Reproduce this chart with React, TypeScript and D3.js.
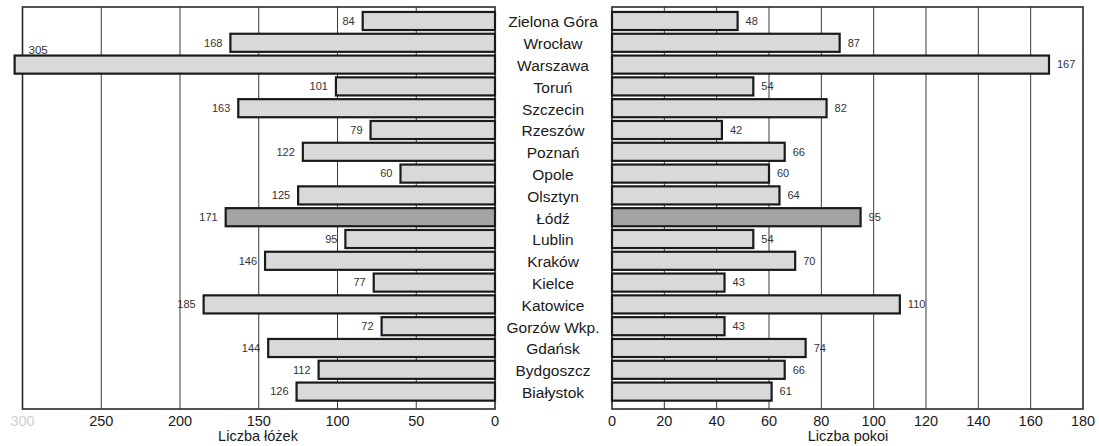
import React from "react";
import * as d3 from "d3";

const cities = [
  "Zielona Góra", "Wrocław", "Warszawa", "Toruń", "Szczecin", "Rzeszów", "Poznań", "Opole", "Olsztyn",
  "Łódź", "Lublin", "Kraków", "Kielce", "Katowice", "Gorzów Wkp.", "Gdańsk", "Bydgoszcz", "Białystok",
];
const beds = [84, 168, 305, 101, 163, 79, 122, 60, 125, 171, 95, 146, 77, 185, 72, 144, 112, 126];
const rooms = [48, 87, 167, 54, 82, 42, 66, 60, 64, 95, 54, 70, 43, 110, 43, 74, 66, 61];
const highlight = "Łódź";
const leftTicks = [300, 250, 200, 150, 100, 50, 0];
const rightTicks = [0, 20, 40, 60, 80, 100, 120, 140, 160, 180];
const leftTitle = "Liczba łóżek";
const rightTitle = "Liczba pokoi";

const W = 1099;
const H = 446;
const FONT = "'Liberation Sans', Arial, sans-serif";

export default function App() {
  const top = 7;
  const bottom = 409;
  const xL = d3.scaleLinear().domain([0, 300]).range([495, 22.5]);
  const xR = d3.scaleLinear().domain([0, 180]).range([612, 1083]);
  const y = d3.scaleBand<string>().domain(cities).range([10.1, 402.5]).paddingInner(0.17).paddingOuter(0.085);
  const bh = y.bandwidth();

  const fillFor = (c: string) => (c === highlight ? "#a3a3a3" : "#d9d9d9");

  return (
    <svg width={W} height={H} style={{ position: "absolute", left: 0, top: 0, background: "#fff" }} fontFamily={FONT}>
      {leftTicks.filter((t) => t !== 0 && t !== 300).map((t) => (
        <line key={"lg" + t} x1={xL(t)} x2={xL(t)} y1={top} y2={bottom} stroke="#3a3a3a" strokeWidth={1} />
      ))}
      {rightTicks.filter((t) => t !== 0 && t !== 180).map((t) => (
        <line key={"rg" + t} x1={xR(t)} x2={xR(t)} y1={top} y2={bottom} stroke="#3a3a3a" strokeWidth={1} />
      ))}
      <rect x={xL(300)} y={top} width={xL(0) - xL(300)} height={bottom - top} fill="none" stroke="#2a2a2a" strokeWidth={1.6} />
      <rect x={xR(0)} y={top} width={xR(180) - xR(0)} height={bottom - top} fill="none" stroke="#2a2a2a" strokeWidth={1.6} />

      {cities.map((c, i) => (
        <rect key={"lb" + c} x={xL(beds[i])} y={y(c)!} width={xL(0) - xL(beds[i])} height={bh}
          fill={fillFor(c)} stroke="#1a1a1a" strokeWidth={2.2} />
      ))}
      {cities.map((c, i) => (
        <rect key={"rb" + c} x={xR(0)} y={y(c)!} width={xR(rooms[i]) - xR(0)} height={bh}
          fill={fillFor(c)} stroke="#1a1a1a" strokeWidth={2.2} />
      ))}

      {cities.map((c, i) => {
        const v = beds[i];
        const overflow = xL(v) < xL(300) + 20;
        return overflow ? (
          <text key={"lv" + c} x={xL(300) + 6} y={y(c)! - 2} fontSize={11.5} fill="#333">{v}</text>
        ) : (
          <text key={"lv" + c} x={xL(v) - 8} y={y(c)! + bh / 2} dy="0.35em" textAnchor="end" fontSize={11} fill="#333">{v}</text>
        );
      })}
      {cities.map((c, i) => (
        <text key={"rv" + c} x={xR(rooms[i]) + 8} y={y(c)! + bh / 2} dy="0.35em" fontSize={11} fill="#333">{rooms[i]}</text>
      ))}

      {cities.map((c) => (
        <text key={"c" + c} x={553} y={y(c)! + bh / 2 + 1} dy="0.35em" textAnchor="middle" fontSize={15.5} fill="#1a1a1a">{c}</text>
      ))}

      {leftTicks.map((t) => (
        <text key={"lt" + t} x={xL(t)} y={426} textAnchor="middle" fontSize={14.5} fill={t === 300 ? "#d0d0d0" : "#1a1a1a"}>{t}</text>
      ))}
      {rightTicks.map((t) => (
        <text key={"rt" + t} x={xR(t)} y={426} textAnchor="middle" fontSize={14.5} fill="#1a1a1a">{t}</text>
      ))}
      <text x={258} y={441} textAnchor="middle" fontSize={14.5} fill="#1a1a1a">{leftTitle}</text>
      <text x={848} y={441} textAnchor="middle" fontSize={14.5} fill="#1a1a1a">{rightTitle}</text>
    </svg>
  );
}
